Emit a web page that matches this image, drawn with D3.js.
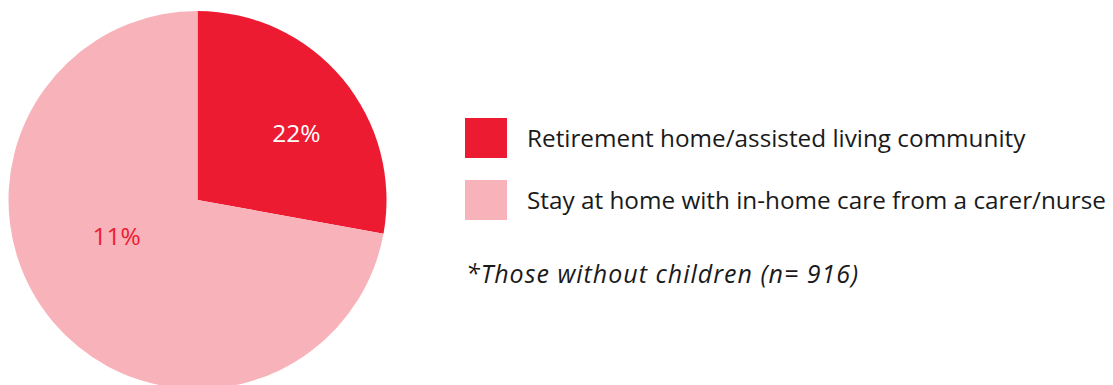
<!DOCTYPE html>
<html>
<head>
<meta charset="utf-8">
<script src="https://cdn.jsdelivr.net/npm/d3@7"></script>
<style>
  html, body { margin: 0; padding: 0; background: #fff; }
  svg { display: block; }
  text { font-family: "Open Sans", "Noto Sans", sans-serif; }
</style>
</head>
<body>
<svg id="chart" width="1113" height="385"></svg>
<script>
// Care preference among respondents without children
const categories = [
  "Retirement home/assisted living community",
  "Stay at home with in-home care from a carer/nurse"
];
const sliceShares = [22, 57];          // relative slice sizes
const labelValues = [22, 11];          // percentages printed on the slices
const colors = ["#ED1B32", "#F8B3BA"];
const labelColors = ["#FFFFFF", "#ED1B32"];
const footnote = "*Those without children (n= 916)";

const svg = d3.select("#chart");

const cx = 197.5, cy = 200, R = 189;

const pie = d3.pie().sort(null).value(d => d.share);
const arc = d3.arc().innerRadius(0).outerRadius(R);

const data = categories.map((c, i) => ({
  name: c, share: sliceShares[i], label: labelValues[i],
  color: colors[i], labelColor: labelColors[i]
}));
const arcs = pie(data);

const g = svg.append("g").attr("transform", `translate(${cx},${cy})`);

g.selectAll("path.slice")
  .data(arcs)
  .join("path")
  .attr("class", "slice")
  .attr("d", arc)
  .attr("fill", d => d.data.color);

// slice labels: placed a little past mid-angle, at a per-slice radius
const labelRadius = [0.63 * R, 0.47 * R];
g.selectAll("text.pct")
  .data(arcs)
  .join("text")
  .attr("class", "pct")
  .attr("transform", (d, i) => {
    const a = d.startAngle + 0.56 * (d.endAngle - d.startAngle);
    const [x, y] = d3.pointRadial(a, labelRadius[i]);
    return `translate(${x},${y})`;
  })
  .attr("text-anchor", "middle")
  .attr("dy", "0.35em")
  .attr("fill", d => d.data.labelColor)
  .attr("font-size", 24.5)
  .text(d => d3.format("d")(d.data.label) + "%");

// legend
const legend = svg.append("g").attr("transform", "translate(465,118)");
const rowStep = 62;
const item = legend.selectAll("g.item")
  .data(data)
  .join("g")
  .attr("class", "item")
  .attr("transform", (d, i) => `translate(0,${i * rowStep})`);

item.append("rect")
  .attr("width", 42)
  .attr("height", 40)
  .attr("fill", d => d.color);

item.append("text")
  .attr("x", 62)
  .attr("y", 29)
  .attr("font-size", 24.3)
  .attr("fill", "#1a1a1a")
  .text(d => d.name);

svg.append("text")
  .attr("x", 466)
  .attr("y", 283)
  .attr("font-size", 25)
  .attr("letter-spacing", 1)
  .attr("font-style", "italic")
  .attr("fill", "#1a1a1a")
  .text(footnote);
</script>
</body>
</html>
